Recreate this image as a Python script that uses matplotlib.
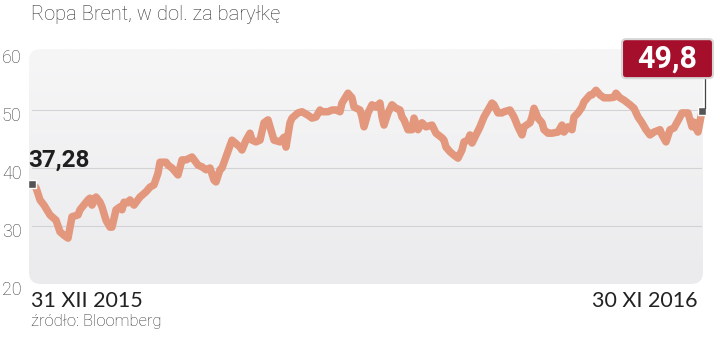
import numpy as np
import pandas as pd
import matplotlib
matplotlib.use('Agg')
import matplotlib.pyplot as plt
import matplotlib.dates as mdates
from matplotlib.patches import FancyBboxPatch
from matplotlib.lines import Line2D
from matplotlib.transforms import ScaledTranslation, IdentityTransform
from matplotlib.colors import LinearSegmentedColormap

plt.rcParams['font.family'] = ['Roboto', 'DejaVu Sans']

# Brent price, USD per barrel (days since 31 XII 2015)
start = pd.Timestamp('2015-12-31')
days = [0, 2, 4, 6, 9, 12, 14, 16, 18, 20, 23, 24, 28, 29, 30, 32, 34, 35, 37, 39,
        40, 42, 44, 45, 46, 48, 49, 51, 54, 55, 57, 59, 61, 63, 64, 67, 68, 70, 73, 75,
        77, 80, 83, 85, 87, 89, 91, 92, 94, 95, 97, 100, 101, 104, 105, 107, 109, 110, 112, 114,
        116, 118, 120, 121, 124, 126, 127, 129, 130, 133, 135, 138, 140, 142, 144, 145, 148, 150, 152, 154,
        155, 158, 160, 161, 164, 165, 166, 168, 170, 172, 174, 175, 176, 178, 180, 182, 184, 185, 186, 188,
        190, 191, 193, 195, 197, 200, 202, 205, 206, 207, 209, 211, 213, 215, 216, 218, 219, 220, 222, 224,
        226, 228, 230, 231, 233, 235, 236, 239, 241, 243, 245, 246, 249, 250, 251, 253, 255, 256, 258, 260,
        263, 265, 266, 268, 270, 271, 273, 275, 276, 279, 280, 282, 284, 286, 289, 291, 292, 294, 296, 299,
        301, 303, 305, 307, 309, 311, 314, 315, 317, 319, 321, 324, 325, 328, 330, 331, 332, 333, 335]
prices = [37.28, 36.6, 34.5, 33.6, 31.9, 31.0, 29.0, 28.4, 27.9, 31.6, 31.9, 32.8, 34.5, 34.8, 33.6, 35.0, 34.1, 33.3, 31.0, 29.8,
          29.8, 32.8, 33.3, 32.8, 34.1, 34.0, 34.5, 33.6, 35.0, 35.3, 35.9, 36.7, 37.1, 39.1, 41.0, 41.0, 40.5, 40.0, 38.8, 41.4,
          41.4, 41.9, 40.5, 40.2, 39.7, 40.0, 37.9, 37.6, 39.7, 40.0, 41.9, 44.8, 44.5, 43.6, 43.1, 44.8, 46.0, 44.8, 44.5, 44.8,
          47.8, 48.3, 46.0, 44.8, 44.5, 45.3, 43.6, 47.8, 48.6, 49.5, 49.7, 49.1, 48.6, 48.8, 50.0, 49.7, 49.7, 50.0, 50.0, 49.7,
          51.2, 52.9, 52.1, 50.5, 50.0, 48.8, 47.1, 49.5, 50.9, 50.5, 51.2, 48.8, 47.4, 49.5, 50.9, 50.3, 50.0, 48.8, 48.3, 46.6,
          46.6, 48.6, 46.6, 47.8, 47.1, 47.4, 46.0, 45.2, 44.8, 43.6, 42.8, 42.2, 41.7, 43.1, 44.5, 44.8, 45.7, 44.3, 45.7, 47.1,
          48.8, 50.0, 51.2, 50.9, 49.5, 49.5, 49.7, 50.0, 48.8, 47.1, 45.7, 47.1, 47.8, 48.8, 50.3, 48.6, 47.8, 46.6, 46.0, 46.0,
          46.2, 47.4, 46.2, 47.1, 46.6, 48.8, 49.5, 50.5, 51.4, 52.6, 52.6, 53.4, 52.6, 52.1, 52.1, 52.2, 52.9, 52.1, 51.7, 50.9,
          50.3, 48.8, 47.8, 46.6, 45.7, 46.2, 46.6, 45.7, 44.5, 46.6, 46.9, 48.8, 49.5, 49.5, 47.1, 47.9, 46.9, 46.2, 49.8]
dates = start + pd.to_timedelta(days, unit='D')

yticks = [20, 30, 40, 50, 60]
start_label = '37,28'
end_label = '49,8'

W, H = 720, 339
fig = plt.figure(figsize=(W / 100, H / 100), dpi=100)


def fx(x):
    return x / W


def fy(y):
    return 1 - y / H


# rounded grey panel with a soft vertical gradient
bx0, bx1, by0, by1 = 29, 703, 49, 284
bw, bh = bx1 - bx0, by1 - by0
bg = fig.add_axes([fx(bx0), fy(by1), bw / W, bh / H])
bg.set_xlim(0, bw)
bg.set_ylim(0, bh)
bg.axis('off')
cmap = LinearSegmentedColormap.from_list('panel', ['#f6f6f7', '#ebebed'])
im = bg.imshow(np.linspace(0, 1, 100).reshape(-1, 1), extent=[0, bw, 0, bh],
               aspect='auto', cmap=cmap, origin='upper')
panel = FancyBboxPatch((0, 0), bw, bh, boxstyle='round,pad=0,rounding_size=12',
                       fc='none', ec='none', transform=bg.transData)
bg.add_patch(panel)
im.set_clip_path(panel)

ax = fig.add_axes([fx(32), fy(284), 670 / W, 232 / H])
ax.patch.set_alpha(0)
ax.set_xlim(dates[0], dates[-1])
ax.set_ylim(20, 60)
ax.set_xticks([])
ax.set_yticks(yticks)
ax.set_yticklabels([str(v) for v in yticks])
ax.tick_params(axis='y', length=0, pad=7.5, labelsize=13, labelcolor='#3c3c3c')
for lab in ax.get_yticklabels():
    lab.set_fontweight('light')
    lab.set_transform(lab.get_transform() + ScaledTranslation(0, -4 / 100, fig.dpi_scale_trans))
ax.grid(axis='y', color='#d3d3d7', lw=0.8)
gls = ax.get_ygridlines()
gls[0].set_visible(False)
gls[-1].set_visible(False)
for s in ax.spines.values():
    s.set_visible(False)

ax.plot(dates, prices, color='#e3987d', lw=5.4, solid_joinstyle='round',
        solid_capstyle='round', clip_on=False, zorder=3)
for d, p in [(dates[0], prices[0]), (dates[-1], prices[-1])]:
    ax.plot(d, p, marker='s', ms=5.5, mfc='#555555', mec='white', mew=1,
            clip_on=False, zorder=5)

ax.annotate(start_label, xy=(dates[0], prices[0]), xytext=(-4, 17),
            textcoords='offset pixels', ha='left', va='baseline',
            fontsize=17.5, fontweight='bold', color='#1e1e1e')

# end value badge
ex, ey = ax.transData.transform((mdates.date2num(dates[-1].to_pydatetime()), prices[-1]))
badge = FancyBboxPatch((ex - 80, ey + 33), 91, 39, boxstyle='round,pad=0,rounding_size=4',
                       fc='#a60f2b', ec='#d6d6d6', lw=1.5, transform=IdentityTransform(),
                       clip_on=False, zorder=6)
ax.add_artist(badge)
ax.add_artist(Line2D([ex + 3, ex + 3], [ey + 3, ey + 33], transform=IdentityTransform(),
                     color='#444444', lw=0.9, clip_on=False, zorder=5))
ax.annotate(end_label, xy=(dates[-1], prices[-1]), xytext=(-34.5, 52.5),
            textcoords='offset pixels', ha='center', va='center',
            fontsize=22, fontweight='bold', color='white', zorder=7)

fig.text(fx(31), fy(20), 'Ropa Brent, w dol. za baryłkę', fontsize=14.5,
         fontweight='light', color='#333333', va='baseline')
fig.text(fx(31), fy(307), '31 XII 2015', fontsize=15.5, family=['Lato', 'DejaVu Sans'],
         color='#222222', va='baseline')
fig.text(fx(697), fy(307), '30 XI 2016', fontsize=15.5, family=['Lato', 'DejaVu Sans'],
         color='#222222', va='baseline', ha='right')
fig.text(fx(31), fy(326), 'źródło: Bloomberg', fontsize=12, fontweight='light',
         color='#333333', va='baseline')

fig.savefig('out.png', dpi=100)
